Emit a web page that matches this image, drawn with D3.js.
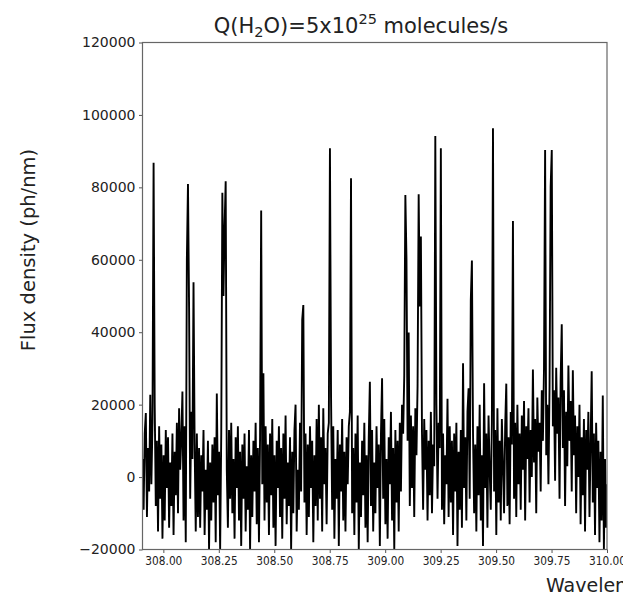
<!DOCTYPE html>
<html><head><meta charset="utf-8">
<script src="https://cdn.jsdelivr.net/npm/d3@7"></script>
<style>body{margin:0;background:#fff;} svg{display:block;}</style>
</head><body>
<svg id="chart" width="623" height="599"></svg>
<script>
// ---- data ----
const wavelengthStart = 307.906;   // nm, first sample
const wavelengthStep = 0.005;      // nm, sampling step
const flux = [
  5000,-9000,12000,17700,-11000,8000,-4000,22700,-2000,15000,
  86800,20000,-8000,10000,-15000,14000,-6000,9000,-17000,6000,
  -12000,13000,-3000,11000,-14000,4000,-8000,12000,-16000,7000,
  -5000,15000,-10000,19000,2000,11000,23600,-12000,14000,-18000,
  60000,80900,46900,-6000,18000,5000,53800,9000,-15000,12000,
  -11000,8000,-14000,6000,-4000,13000,-16000,2000,-9000,10000,
  -20000,4000,-12000,9000,-7000,11000,-18000,23100,-5000,7000,
  -20000,12000,78500,50000,69000,81700,2000,-14000,13000,-6000,
  15000,-10000,5000,-17000,11000,-3000,14000,-12000,7000,-19000,
  9000,-6000,12000,-15000,3000,-9000,13000,-20000,6000,-11000,
  10000,-4000,15000,-13000,8000,-18000,11000,73600,-2000,28700,
  -12000,14000,-7000,9000,-16000,12000,-5000,16000,-14000,6000,
  -19000,10000,-3000,14000,-11000,8000,-17000,12000,-6000,17000,
  -13000,4000,-8000,11000,-20000,7000,-10000,13000,20000,-15000,
  2000,-9000,15000,-4000,43400,47500,-7000,12000,-16000,9000,
  -11000,14000,-3000,10000,-18000,6000,-8000,16000,-12000,20000,
  -6000,11000,-15000,19000,-2000,8000,-13000,12000,15000,90800,
  22000,-9000,14000,-17000,5000,-6000,13000,-19000,9000,-4000,
  16000,-12000,7000,-15000,11000,-2000,14000,18000,82500,-10000,
  8000,-16000,12000,-7000,17000,-20000,4000,-11000,10000,-5000,
  15000,-14000,6000,-18000,11000,26300,-8000,13000,-15000,4000,
  -10000,14000,-3000,9000,-19000,12000,27300,-6000,16000,-13000,
  5000,-17000,11000,-2000,18000,-12000,8000,-20000,13000,-7000,
  10000,-15000,15000,-4000,20000,12000,28000,77900,60400,10000,
  39900,-8000,17000,-3000,14000,-11000,19000,6000,25000,78100,
  47100,66400,12000,-9000,16000,2000,13000,-12000,10000,-5000,
  18000,-10000,9000,3000,94200,20000,-6000,15000,8000,90800,
  -9000,12000,-13000,6000,-2000,21600,-11000,14000,-7000,10000,
  -16000,12000,-4000,15000,-19000,7000,-9000,13000,-14000,31400,
  -3000,11000,-12000,18000,24500,-6000,48900,59800,12000,-10000,
  9000,-15000,14000,-5000,20000,-12000,6000,-19000,25900,-3000,
  12000,-14000,17000,2000,-9000,15000,96300,-4000,13000,-16000,
  19000,-7000,10000,-12000,16000,3000,-10000,14000,25800,-8000,
  11000,-13000,18000,9000,70700,-6000,15000,-11000,20000,-2000,
  12000,-9000,17000,2000,21000,-12000,14000,5000,19000,-7000,
  13000,0,29700,4000,16000,-10000,22000,7000,15000,-4000,
  24000,10000,30000,90300,6000,20000,-2000,25000,80200,90300,
  14000,24000,-1000,30200,12000,22000,-6000,27000,42200,8000,
  24000,-8000,18000,3000,30800,10000,21000,-4000,29500,6000,
  17000,-10000,14000,0,20000,-13000,11000,-5000,16000,-15000,
  13000,2000,18000,-11000,9000,29200,-7000,12000,-16000,15000,
  -3000,10000,-18000,7000,-12000,22500,-20000,5000,-14000,-2000
];
const xDomain = [307.906, 310.0];
const yDomain = [-20000, 120000];
const xTicks = [308.00, 308.25, 308.50, 308.75, 309.00, 309.25, 309.50, 309.75, 310.00];
const xTickLabels = ["308.00","308.25","308.50","308.75","309.00","309.25","309.50","309.75","310.00"];
const yTicks = [-20000, 0, 20000, 40000, 60000, 80000, 100000, 120000];

// ---- layout ----
const L = 142.5, R = 607, T = 42.5, B = 549.5;
const svg = d3.select("#chart");
const x = d3.scaleLinear().domain(xDomain).range([L, R]);
const y = d3.scaleLinear().domain(yDomain).range([B, T]);
const font = "'DejaVu Sans', sans-serif";

const data = flux.map((v, i) => ({w: wavelengthStart + i * wavelengthStep, v}));

svg.append("defs").append("clipPath").attr("id","clip")
  .append("rect").attr("x", L).attr("y", T).attr("width", R - L).attr("height", B - T);

svg.append("path").datum(data)
  .attr("clip-path","url(#clip)")
  .attr("fill","none").attr("stroke","#000").attr("stroke-width",1.9)
  .attr("stroke-linejoin","miter").attr("stroke-miterlimit",2)
  .attr("d", d3.line().x(d => x(d.w)).y(d => y(d.v)));

// axes
const xAxis = svg.append("g").attr("transform",`translate(0,${B})`)
  .call(d3.axisBottom(x).tickValues(xTicks).tickSize(3.5).tickPadding(3.5)
        .tickFormat((d,i) => xTickLabels[i]));
const yAxis = svg.append("g").attr("transform",`translate(${L},0)`)
  .call(d3.axisLeft(y).tickValues(yTicks).tickSize(3.5).tickPadding(3.5)
        .tickFormat(d => d < 0 ? "\u2212" + Math.abs(d) : String(d)));
[xAxis, yAxis].forEach(g => {
  g.select(".domain").remove();
  g.selectAll(".tick line").attr("stroke","#555").attr("stroke-width",1);
  g.selectAll(".tick text").attr("fill","#222").style("font-family", font);
});
xAxis.selectAll(".tick text").style("font-size","12px").attr("textLength", 37).attr("lengthAdjust","spacingAndGlyphs");
yAxis.selectAll(".tick text").style("font-size","14px");

// frame
svg.append("rect").attr("x",L).attr("y",T).attr("width",R-L).attr("height",B-T)
  .attr("fill","none").attr("stroke","#666").attr("stroke-width",1.2);

// title
const title = svg.append("text").attr("x", 361).attr("y", 33).attr("text-anchor","middle")
  .style("font-family", font).style("font-size","21px").attr("fill","#222");
title.append("tspan").text("Q(H");
title.append("tspan").attr("dy", 4).style("font-size","14.5px").text("2");
title.append("tspan").attr("dy", -4).text("O)=5x10");
title.append("tspan").attr("dy", -9).style("font-size","14.5px").text("25");
title.append("tspan").attr("dy", 9).text(" molecules/s");

// axis labels
svg.append("text").attr("transform","translate(35,250) rotate(-90)")
  .attr("text-anchor","middle").style("font-family", font).style("font-size","19.5px")
  .attr("fill","#222").text("Flux density (ph/nm)");
svg.append("text").attr("x", 546).attr("y", 592)
  .style("font-family", font).style("font-size","19px").attr("fill","#222")
  .text("Wavelength (nm)");
</script>
</body></html>
